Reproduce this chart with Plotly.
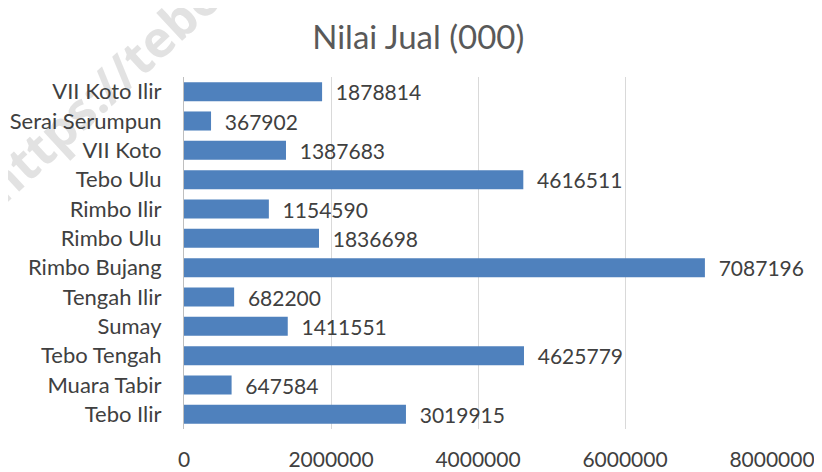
import plotly.graph_objects as go

# categories top -> bottom as shown in the chart
kecamatan = ["VII Koto Ilir", "Serai Serumpun", "VII Koto", "Tebo Ulu", "Rimbo Ilir",
             "Rimbo Ulu", "Rimbo Bujang", "Tengah Ilir", "Sumay", "Tebo Tengah",
             "Muara Tabir", "Tebo Ilir"]
nilai_jual = [1878814, 367902, 1387683, 4616511, 1154590,
              1836698, 7087196, 682200, 1411551, 4625779,
              647584, 3019915]
x_ticks = [0, 2000000, 4000000, 6000000, 8000000]

FONT = "Lato"
GREY = "#404040"

fig = go.Figure(go.Bar(
    x=nilai_jual,
    y=kecamatan,
    orientation="h",
    marker=dict(color="#4F81BD", line=dict(width=0)),
    text=[str(v) for v in nilai_jual],
    texttemplate="  %{text}",
    textposition="outside",
    constraintext="none",
    cliponaxis=False,
    textfont=dict(family=FONT, size=21, color=GREY),
))

# page body adds 8px around the figure, so it is sized to fit inside the window
fig.update_layout(
    width=814, height=464,
    margin=dict(l=176, r=50, t=69, b=43, autoexpand=False),
    paper_bgcolor="white", plot_bgcolor="white",
    bargap=0.35,
    showlegend=False,
    title=dict(text="Nilai Jual (000)", x=0.504, xanchor="center", y=0.937, yanchor="middle",
               font=dict(family=FONT, size=33, color="#595959")),
    font=dict(family=FONT, color=GREY),
)

fig.update_xaxes(
    range=[0, 8000000], tickvals=x_ticks, tickformat="d",
    showgrid=True, gridcolor="#D9D9D9", gridwidth=1,
    zeroline=False, showline=False, ticks="", automargin=False,
    ticklabelstandoff=16,
    tickfont=dict(family=FONT, size=21, color=GREY),
)
fig.update_yaxes(
    autorange="reversed", showgrid=False, zeroline=False,
    showline=True, linecolor="#BFBFBF", linewidth=1, ticks="", automargin=False,
    ticklabelstandoff=17,
    tickfont=dict(family=FONT, size=22, color=GREY),
)

# faint watermark in the top-left corner, kept below the chart text
fig.add_shape(
    type="line", xref="paper", yref="paper", layer="below",
    x0=-0.283, y0=0.589, x1=0.532, y1=1.849,
    line=dict(width=0, color="rgba(0,0,0,0)"),
    label=dict(text="<b>https://tebokab.bps.go.id</b>", textposition="start",
               font=dict(family="Open Sans", size=50, color="#E2E2E2")),
)

fig.write_html("out.html")
